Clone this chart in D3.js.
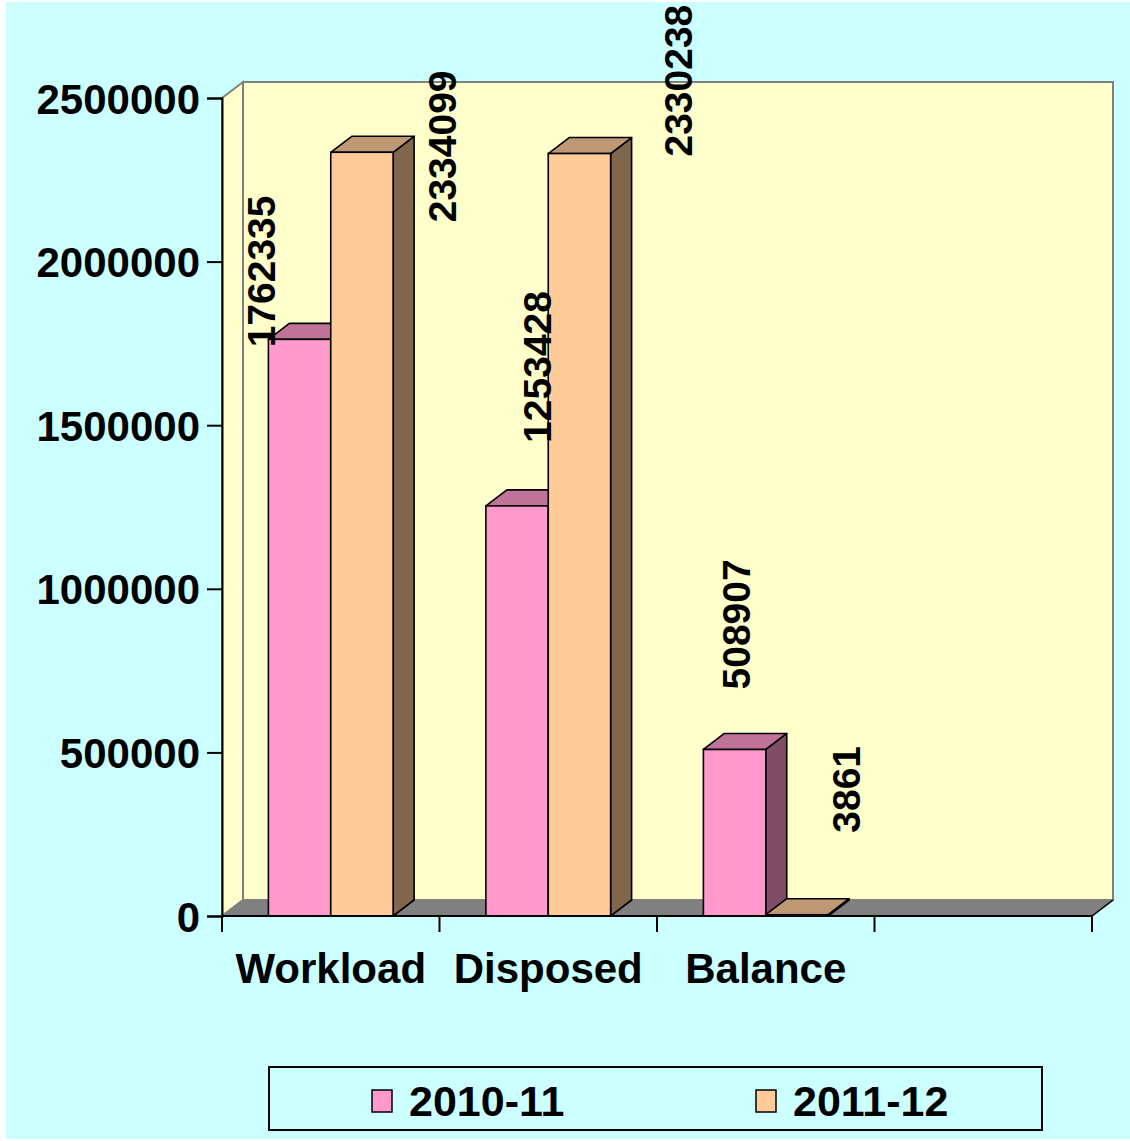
<!DOCTYPE html>
<html>
<head>
<meta charset="utf-8">
<script src="https://cdn.jsdelivr.net/npm/d3@7"></script>
<style>
  html, body { margin: 0; padding: 0; background: #ffffff; }
  svg { display: block; }
  text { font-family: "Liberation Sans", Arial, sans-serif; font-weight: bold; }
</style>
</head>
<body>
<svg id="chart" width="1130" height="1141"></svg>
<script>
// ---- data ----
const categories = ["Workload", "Disposed", "Balance", ""];
const seriesNames = ["2010-11", "2011-12"];
const values2010 = [1762335, 1253428, 508907];
const values2011 = [2334099, 2330238, 3861];
const yTicks = [0, 500000, 1000000, 1500000, 2000000, 2500000];

// ---- style / layout ----
const colors = {
  "2010-11": { front: "#FF99CC", top: "#BF7399", side: "#804C66" },
  "2011-12": { front: "#FFCC99", top: "#BF9973", side: "#80664D" }
};
const depth = { dx: 21, dy: 16 };
const plot = { left: 222, right: 1092, top: 98, bottom: 916 };
// label anchor offsets (baseline x, start y) relative to each bar's front-top-left corner
const labelOffsets = {
  "2010-11": [[7, 8], [65, -63], [47, -60]],
  "2011-12": [[125, 70], [144, 3], [94, -82]]
};

const svg = d3.select("#chart");
svg.append("rect").attr("x", 6).attr("y", 2).attr("width", 1124).attr("height", 1137).attr("fill", "#CCFFFF");

const x = d3.scaleBand().domain(categories).range([plot.left, plot.right]).padding(0);
const xs = d3.scaleBand().domain(seriesNames).range([0, x.bandwidth()]).paddingInner(0).paddingOuter(0.744);
const y = d3.scaleLinear().domain([0, 2500000]).range([plot.bottom, plot.top]);

const g = svg.append("g");
const dx = depth.dx, dy = depth.dy;
const y0 = y(0), yTop = y(2500000);

// back wall
g.append("rect")
  .attr("x", plot.left + dx).attr("y", yTop - dy)
  .attr("width", plot.right - plot.left).attr("height", y0 - yTop)
  .attr("fill", "#FFFFCC").attr("stroke", "#808080").attr("stroke-width", 2);
// left wall
g.append("polygon")
  .attr("points", [[plot.left, yTop], [plot.left + dx, yTop - dy], [plot.left + dx, y0 - dy], [plot.left, y0]].join(" "))
  .attr("fill", "#FFFFCC").attr("stroke", "#808080").attr("stroke-width", 2);
// floor
g.append("polygon")
  .attr("points", [[plot.left, y0], [plot.right, y0], [plot.right + dx, y0 - dy], [plot.left + dx, y0 - dy]].join(" "))
  .attr("fill", "#808080").attr("stroke", "#808080").attr("stroke-width", 1.5);

// bars
const bars = [];
categories.forEach((c, i) => {
  seriesNames.forEach((s, j) => {
    const v = (j === 0 ? values2010 : values2011)[i];
    if (v === undefined) return;
    bars.push({ cat: c, series: s, value: v, idx: i });
  });
});

const bw = xs.bandwidth();
bars.forEach(b => {
  const bx = x(b.cat) + xs(b.series);
  const by = y(b.value);
  const col = colors[b.series];
  const bg = g.append("g");
  bg.append("polygon")
    .attr("points", [[bx + bw, by], [bx + bw + dx, by - dy], [bx + bw + dx, y0 - dy], [bx + bw, y0]].join(" "))
    .attr("fill", col.side).attr("stroke", "#000").attr("stroke-width", 1.6).attr("stroke-linejoin", "round");
  bg.append("polygon")
    .attr("points", [[bx, by], [bx + bw, by], [bx + bw + dx, by - dy], [bx + dx, by - dy]].join(" "))
    .attr("fill", col.top).attr("stroke", "#000").attr("stroke-width", 1.6).attr("stroke-linejoin", "round");
  if (y0 - by > 0.5) {
    bg.append("rect")
      .attr("x", bx).attr("y", by).attr("width", bw).attr("height", y0 - by)
      .attr("fill", col.front).attr("stroke", "#000").attr("stroke-width", 1.6);
  } else {
    bg.append("line").attr("x1", bx).attr("x2", bx + bw).attr("y1", y0).attr("y2", y0)
      .attr("stroke", "#000").attr("stroke-width", 1.6);
  }
  b.bx = bx; b.by = by;
});

// axes
const yAxis = d3.axisLeft(y).tickValues(yTicks).tickSize(15).tickFormat(d3.format("d"));
const ya = svg.append("g").attr("transform", `translate(${plot.left},0)`).call(yAxis);
ya.select(".domain").attr("stroke", "#000").attr("stroke-width", 2);
ya.selectAll(".tick line").attr("stroke", "#000").attr("stroke-width", 2);
ya.selectAll(".tick text").attr("font-size", 42).attr("font-family", "Liberation Sans, Arial, sans-serif")
  .attr("font-weight", "bold").attr("fill", "#000").attr("x", -22).attr("dy", "0.36em");

const xa = svg.append("g").attr("transform", `translate(0,${plot.bottom})`);
xa.append("line").attr("x1", plot.left).attr("x2", plot.right).attr("y1", 0).attr("y2", 0)
  .attr("stroke", "#000").attr("stroke-width", 2);
const tickXs = categories.map(c => x(c)).concat([plot.right]);
xa.selectAll("line.tk").data(tickXs).join("line").attr("class", "tk")
  .attr("x1", d => d).attr("x2", d => d).attr("y1", 0).attr("y2", 16)
  .attr("stroke", "#000").attr("stroke-width", 2);
xa.append("line").attr("x1", plot.right).attr("y1", 0).attr("x2", plot.right + dx).attr("y2", -dy)
  .attr("stroke", "#000").attr("stroke-width", 1.5);
xa.selectAll("text.cat").data(categories).join("text").attr("class", "cat")
  .attr("x", d => x(d) + x.bandwidth() / 2).attr("y", 67)
  .attr("text-anchor", "middle").attr("font-size", 42).attr("fill", "#000").text(d => d);

// data labels
bars.forEach(b => {
  const off = labelOffsets[b.series][b.idx];
  svg.append("text")
    .attr("transform", `translate(${b.bx + off[0]},${b.by + off[1]}) rotate(-90)`)
    .attr("font-size", 39).attr("fill", "#000").attr("text-anchor", "start")
    .text(b.value);
});

// legend
const lg = svg.append("g");
lg.append("rect").attr("x", 269).attr("y", 1067).attr("width", 773).attr("height", 63)
  .attr("fill", "#CCFFFF").attr("stroke", "#000").attr("stroke-width", 2);
const legendX = d3.scalePoint().domain(seriesNames).range([372, 756]);
seriesNames.forEach(s => {
  const lx = legendX(s);
  lg.append("rect").attr("x", lx).attr("y", 1090).attr("width", 20).attr("height", 22)
    .attr("fill", colors[s].front).attr("stroke", "#000").attr("stroke-width", 1.5);
  lg.append("text").attr("x", lx + 37).attr("y", 1116).attr("font-size", 43).attr("fill", "#000").text(s);
});
</script>
</body>
</html>
